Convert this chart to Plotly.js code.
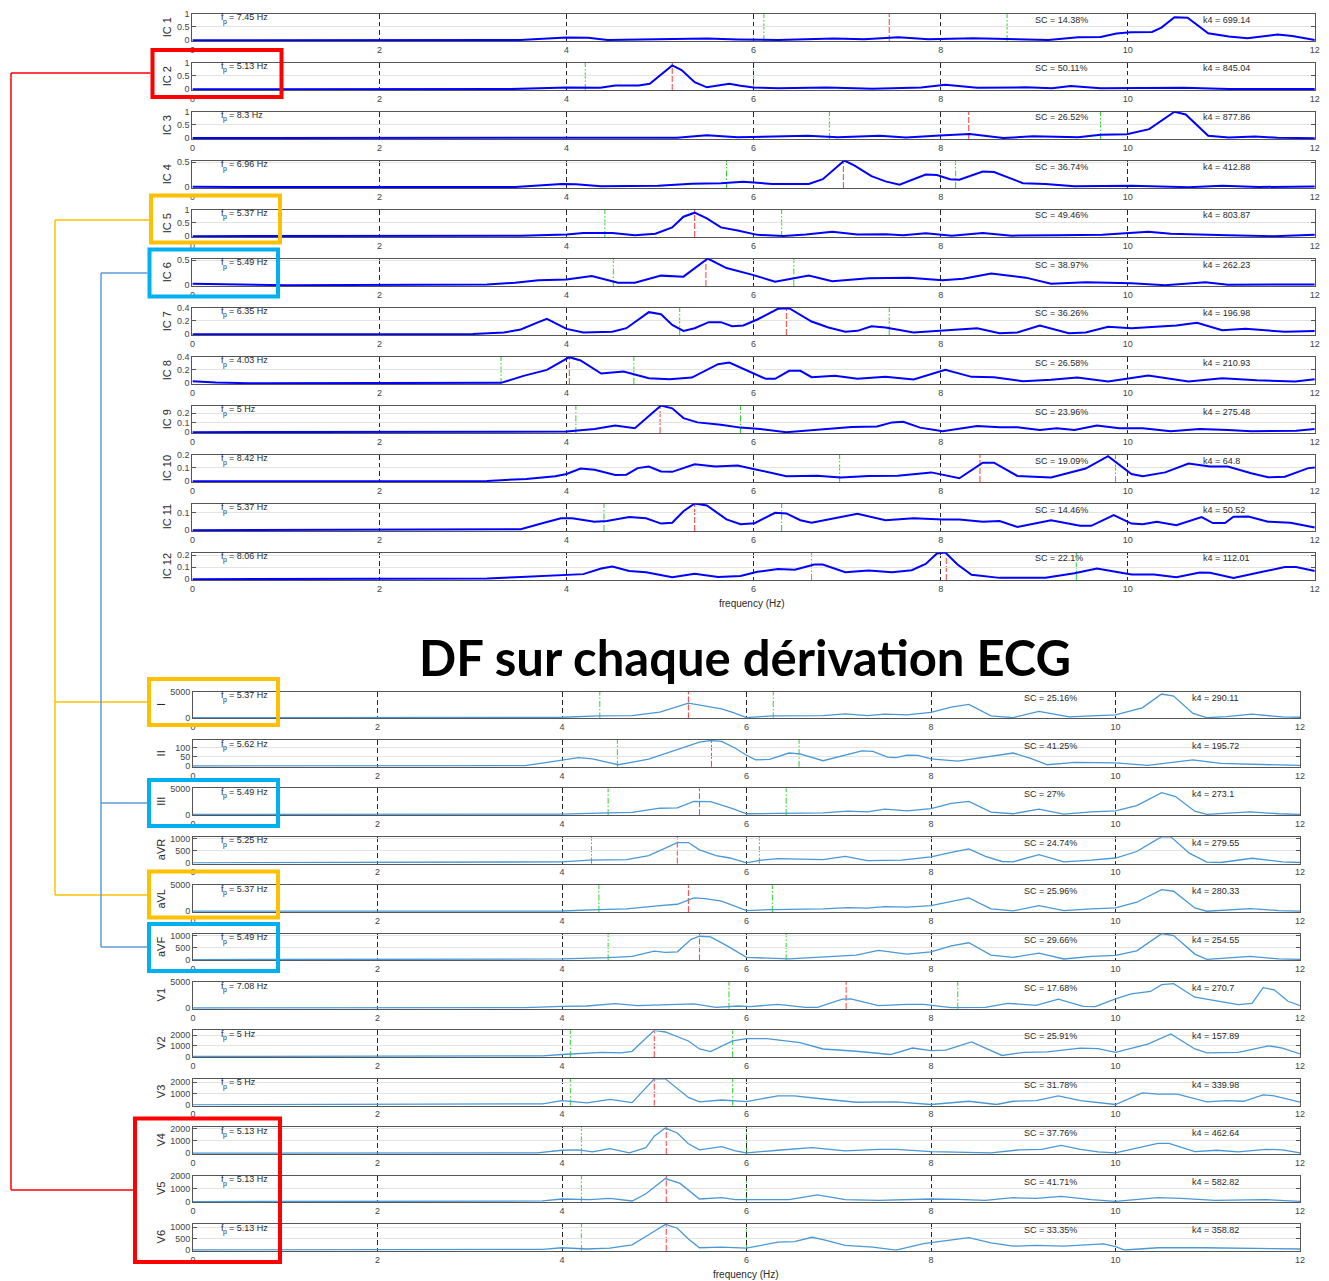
<!DOCTYPE html>
<html>
<head>
<meta charset="utf-8">
<script src="https://cdn.plot.ly/plotly-3.0.1.min.js"></script>
<style>html,body{margin:0;padding:0;background:#fff;}#chart{width:1329px;height:1281px;}</style>
</head>
<body>
<div id="chart"></div>
<script>
// ---------- DATA (frequency Hz, power) ----------
const IC_NAMES = ['IC 1','IC 2','IC 3','IC 4','IC 5','IC 6','IC 7','IC 8','IC 9','IC 10','IC 11','IC 12'];
const ECG_NAMES = ['I','II','III','aVR','aVL','aVF','V1','V2','V3','V4','V5','V6'];

const IC1 = [[0,0],[3.5,0.01],[4,0.1],[4.23,0.09],[4.44,0.01],[4.77,0.025],[5.18,0.06],[5.5,0.06],[5.83,0.025],[6.26,0.01],[6.86,0.06],[7.18,0.04],[7.55,0.11],[7.87,0.04],[8.35,0.07],[8.67,0.04],[8.91,0.01],[9.15,0.01],[9.47,0.11],[9.71,0.12],[9.88,0.25],[10.03,0.3],[10.26,0.31],[10.36,0.47],[10.5,0.86],[10.64,0.84],[10.86,0.26],[11.08,0.14],[11.28,0.07],[11.6,0.21],[11.76,0.16],[12,0.01]];
const IC2 = [[0,0],[3.4,0.005],[4,0.06],[4.36,0.05],[4.52,0.14],[4.77,0.14],[4.89,0.2],[5.13,0.89],[5.23,0.72],[5.37,0.26],[5.5,0.07],[5.74,0.2],[5.86,0.13],[6,0.06],[6.26,0.04],[6.78,0.06],[7.27,0.02],[7.79,0.06],[8.05,0.17],[8.39,0.05],[8.91,0.07],[9.19,0.04],[9.39,0.12],[9.71,0.04],[10.6,0.05],[11.08,0.01],[12,0.01]];
const IC3 = [[0,0.005],[4,0.02],[5.18,0.02],[5.5,0.11],[5.83,0.04],[6.58,0.09],[6.9,0.04],[7.35,0.09],[7.63,0.025],[7.99,0.1],[8.31,0.16],[8.67,0.01],[8.99,0.07],[9.47,0.04],[9.71,0.13],[9.99,0.15],[10.23,0.34],[10.5,0.99],[10.62,0.89],[10.86,0.09],[11.08,0.03],[11.36,0.06],[11.6,0.02],[12,0]];
const IC4 = [[0,0.01],[0.5,0.005],[3.45,0.005],[3.95,0.064],[4.1,0.06],[4.37,0.02],[4.98,0.03],[5.34,0.07],[5.65,0.077],[5.89,0.11],[6.2,0.064],[6.59,0.064],[6.74,0.16],[6.97,0.53],[7.08,0.43],[7.26,0.22],[7.41,0.115],[7.56,0.05],[7.84,0.25],[7.96,0.24],[8.1,0.16],[8.2,0.15],[8.45,0.31],[8.57,0.3],[8.88,0.08],[9.12,0.064],[9.43,0.02],[10.04,0.03],[10.65,0],[11.01,0.03],[11.4,0.005],[12,0.012]];
const IC5 = [[0,0],[3.51,0.02],[4,0.06],[4.18,0.12],[4.49,0.12],[4.73,0.04],[4.95,0.09],[5.13,0.33],[5.25,0.73],[5.37,0.88],[5.5,0.67],[5.65,0.33],[5.83,0.21],[6.04,0.05],[6.32,0.01],[6.56,0.06],[6.84,0.17],[7.11,0.06],[7.41,0.07],[7.6,0.04],[7.84,0.11],[8.12,0.02],[8.45,0.12],[8.76,0.02],[9.24,0.04],[9.73,0.05],[10.22,0.17],[10.46,0.09],[11.07,0.04],[11.56,0],[12,0.05]];
const IC6 = [[0,0.03],[0.4,0.02],[1,0],[3.15,0.013],[3.45,0.05],[3.7,0.1],[4,0.115],[4.27,0.18],[4.55,0.05],[4.73,0.05],[5.01,0.19],[5.25,0.17],[5.51,0.53],[5.71,0.34],[5.98,0.21],[6.23,0.07],[6.59,0.19],[6.84,0.08],[7.23,0.14],[7.66,0.15],[8.02,0.1],[8.24,0.13],[8.54,0.23],[8.91,0.15],[9.18,0.03],[9.55,0.06],[10.04,0.04],[10.4,0],[10.83,0.06],[11.07,0.01],[11.68,0.02],[12,0.013]];
const IC7 = [[0,0],[3.0,0.003],[3.33,0.026],[3.51,0.07],[3.7,0.18],[3.79,0.23],[4,0.08],[4.18,0.026],[4.49,0.036],[4.64,0.09],[4.88,0.33],[5.01,0.3],[5.13,0.14],[5.25,0.05],[5.37,0.09],[5.52,0.18],[5.65,0.18],[5.77,0.12],[5.89,0.13],[6.04,0.22],[6.26,0.38],[6.38,0.39],[6.62,0.19],[6.8,0.1],[6.98,0.036],[7.11,0.05],[7.26,0.12],[7.41,0.1],[7.71,0.026],[8.02,0.06],[8.39,0.09],[8.63,0.015],[8.82,0.026],[9.06,0.13],[9.37,0.015],[9.55,0.026],[9.79,0.11],[10.04,0.09],[10.28,0.11],[10.52,0.13],[10.74,0.17],[11.01,0.06],[11.26,0.08],[11.68,0.036],[12,0.047]];
const IC8 = [[0,0.03],[0.25,0.01],[0.6,0],[3.3,0.005],[3.54,0.11],[3.79,0.2],[4.03,0.39],[4.15,0.34],[4.37,0.145],[4.61,0.175],[4.88,0.075],[5.1,0.06],[5.34,0.085],[5.62,0.285],[5.74,0.31],[5.95,0.175],[6.13,0.065],[6.23,0.065],[6.38,0.185],[6.5,0.185],[6.62,0.09],[6.87,0.11],[7.11,0.065],[7.41,0.095],[7.71,0.055],[8.05,0.2],[8.33,0.095],[8.57,0.09],[8.88,0.03],[9.18,0.05],[9.46,0.085],[9.79,0.025],[10.22,0.115],[10.65,0.025],[11.01,0.075],[11.38,0.045],[11.79,0.025],[12,0.06]];
const IC9 = [[0,0],[3.33,0.01],[4,0.007],[4.3,0.034],[4.52,0.069],[4.73,0.041],[5.01,0.28],[5.13,0.25],[5.25,0.148],[5.4,0.103],[5.65,0.079],[5.86,0.048],[6.07,0.034],[6.35,0],[6.8,0.034],[7.05,0.055],[7.32,0.059],[7.48,0.103],[7.6,0.11],[7.78,0.048],[8.02,0.01],[8.39,0.066],[8.63,0.052],[8.82,0.052],[9.06,0.024],[9.24,0.041],[9.43,0.024],[9.67,0.069],[9.91,0.041],[10.16,0.041],[10.46,0.01],[10.77,0.034],[11.07,0.024],[11.32,0.01],[11.8,0.014],[12,0.034]];
const IC10 = [[0,0],[3.15,0.002],[3.57,0.017],[3.88,0.037],[4,0.054],[4.15,0.095],[4.3,0.085],[4.52,0.046],[4.64,0.049],[4.76,0.098],[4.88,0.11],[5.01,0.073],[5.13,0.07],[5.37,0.127],[5.59,0.11],[5.83,0.117],[6.01,0.09],[6.35,0.037],[6.68,0.041],[6.93,0.027],[7.23,0.039],[7.54,0.041],[7.9,0.066],[8.2,0.022],[8.45,0.139],[8.57,0.139],[8.82,0.039],[9.18,0.027],[9.55,0.095],[9.79,0.188],[10.04,0.054],[10.16,0.037],[10.4,0.066],[10.65,0.132],[10.88,0.11],[11.07,0.11],[11.32,0.059],[11.5,0.029],[11.68,0.034],[11.93,0.098],[12,0.102]];
const IC11 = [[0,0],[3.51,0.006],[3.76,0.043],[3.94,0.068],[4.06,0.068],[4.3,0.049],[4.43,0.053],[4.67,0.075],[4.85,0.068],[5.01,0.038],[5.13,0.043],[5.25,0.109],[5.37,0.153],[5.5,0.142],[5.71,0.062],[5.86,0.034],[6.01,0.04],[6.23,0.1],[6.35,0.096],[6.5,0.057],[6.62,0.043],[7.11,0.094],[7.41,0.057],[7.71,0.068],[8.02,0.062],[8.2,0.062],[8.45,0.049],[8.63,0.053],[8.82,0.019],[9.18,0.057],[9.49,0.026],[9.61,0.025],[9.85,0.087],[10.04,0.038],[10.16,0.034],[10.31,0.049],[10.52,0.028],[10.79,0.075],[10.91,0.041],[11.04,0.041],[11.13,0.077],[11.29,0.079],[11.5,0.049],[11.74,0.043],[12,0.015]];
const IC12 = [[0,0],[3.15,0.005],[3.45,0.016],[3.76,0.026],[4,0.032],[4.18,0.042],[4.37,0.089],[4.49,0.105],[4.67,0.068],[4.85,0.058],[5.13,0.016],[5.37,0.045],[5.62,0.018],[5.86,0.026],[6.04,0.061],[6.26,0.084],[6.44,0.079],[6.65,0.121],[6.74,0.121],[6.98,0.058],[7.23,0.071],[7.48,0.058],[7.69,0.074],[7.84,0.126],[7.96,0.213],[8.05,0.221],[8.18,0.121],[8.33,0.037],[8.63,0.011],[9.12,0.013],[9.43,0.05],[9.67,0.089],[10.04,0.039],[10.28,0.039],[10.52,0.016],[10.77,0.055],[10.88,0.053],[11.13,0.011],[11.44,0.061],[11.68,0.1],[11.8,0.1],[12,0.068]];

const ECG_I = [[0,0],[3.6,70],[4,70],[4.4,330],[4.76,400],[5.06,1070],[5.37,2800],[5.73,1670],[5.85,1000],[6,0],[6.28,330],[6.83,400],[7.07,730],[7.31,400],[7.5,670],[7.74,530],[8,1000],[8.22,2000],[8.41,2530],[8.65,330],[8.89,0],[9.17,1200],[9.5,130],[9.74,330],[10,530],[10.29,1870],[10.5,4530],[10.63,4130],[10.84,800],[10.99,0],[11.2,200],[11.48,670],[11.81,130],[12,70]];
const ECG_II = [[0,0],[3.6,2],[4,32],[4.18,46],[4.33,39],[4.61,7],[4.94,37],[5.25,92],[5.49,131],[5.61,139],[5.73,134],[5.88,97],[6,59],[6.1,34],[6.25,36],[6.46,71],[6.58,66],[6.83,29],[7.07,59],[7.25,83],[7.37,80],[7.53,49],[7.62,46],[7.74,59],[7.86,58],[8,39],[8.29,27],[8.59,49],[8.89,71],[9.08,42],[9.26,7],[9.56,20],[10,17],[10.35,3],[10.6,17],[10.84,34],[11.14,14],[11.57,8],[12,3]];
const ECG_III = [[0,0],[3.6,20],[4,60],[4.5,310],[4.76,375],[5.06,1190],[5.25,1250],[5.43,2500],[5.61,2440],[5.85,1125],[6,125],[6.34,190],[6.83,310],[7.1,625],[7.31,500],[7.5,1000],[7.74,690],[8,1125],[8.22,2125],[8.41,2500],[8.65,440],[8.89,125],[9.17,1000],[9.44,60],[9.74,500],[10,690],[10.23,1690],[10.5,4190],[10.65,3440],[10.86,625],[10.99,0],[11.46,500],[11.77,125],[12,0]];
const ECG_AVR = [[0,0],[3.6,27],[4,40],[4.3,108],[4.7,135],[4.94,300],[5.25,840],[5.37,840],[5.49,540],[5.67,300],[5.82,200],[6,0],[6.16,108],[6.34,175],[6.83,135],[7.07,270],[7.31,95],[7.68,108],[8,245],[8.22,430],[8.41,580],[8.59,270],[8.77,55],[8.89,40],[9.17,340],[9.44,40],[9.74,108],[10,200],[10.23,470],[10.41,880],[10.5,1080],[10.6,1080],[10.8,400],[10.99,27],[11.14,13],[11.48,190],[11.81,40],[12,13]];
const ECG_AVL = [[0,0],[3.6,20],[4,40],[4.4,320],[4.7,450],[5.06,1090],[5.25,1340],[5.43,2560],[5.55,2430],[5.73,1920],[6,130],[6.28,320],[6.83,450],[7.1,700],[7.31,580],[7.5,900],[7.74,770],[8,1090],[8.22,1920],[8.41,2560],[8.65,450],[8.89,64],[9.17,1090],[9.44,130],[9.74,450],[10,640],[10.23,1730],[10.5,4160],[10.63,3840],[10.86,640],[10.99,0],[11.46,510],[11.77,130],[12,0]];
const ECG_AVF = [[0,0],[3.6,10],[4,27],[4.5,80],[4.76,135],[5,350],[5.12,300],[5.25,325],[5.4,840],[5.49,970],[5.61,945],[5.79,570],[6,95],[6.46,27],[6.83,95],[7.19,190],[7.43,380],[7.74,230],[8,325],[8.22,570],[8.41,700],[8.65,190],[8.89,95],[9.17,270],[9.44,27],[9.74,135],[10,175],[10.23,365],[10.5,1080],[10.63,1000],[10.86,230],[10.99,13],[11.46,135],[11.77,27],[12,13]];
const ECG_V1 = [[0,0],[3.6,65],[4,325],[4.27,390],[4.58,845],[4.82,455],[5.25,715],[5.43,780],[5.67,130],[5.91,390],[6.04,260],[6.34,715],[6.64,130],[6.77,130],[7.04,1690],[7.13,1750],[7.43,455],[7.74,715],[7.92,715],[8.22,65],[8.59,130],[8.83,910],[9.14,520],[9.38,1690],[9.65,325],[9.78,260],[10,1750],[10.17,2730],[10.38,3185],[10.5,4480],[10.63,4675],[10.86,2080],[11.08,1430],[11.33,650],[11.48,910],[11.6,3900],[11.72,3510],[11.87,1300],[12,455]];
const ECG_V2 = [[0,0],[3.6,20],[3.79,60],[4,180],[4.43,390],[4.64,330],[4.76,485],[5,2450],[5.12,2300],[5.37,1455],[5.49,700],[5.61,455],[5.85,1455],[6,1670],[6.22,1670],[6.58,1300],[6.83,700],[7.19,485],[7.56,180],[7.8,790],[8,545],[8.16,600],[8.44,1360],[8.59,790],[8.77,90],[9.01,390],[9.26,420],[9.62,790],[9.81,730],[10,390],[10.35,1150],[10.6,2120],[10.86,700],[10.99,330],[11.33,390],[11.66,1000],[11.81,790],[12,240]];
const ECG_V3 = [[0,0],[3.6,20],[3.79,85],[4,370],[4.27,170],[4.52,485],[4.76,200],[5,2310],[5.12,2310],[5.37,660],[5.49,255],[5.73,430],[5.88,370],[6,285],[6.34,800],[6.52,800],[6.83,515],[7.19,230],[7.62,255],[7.86,85],[8,30],[8.41,315],[8.71,30],[8.89,315],[9.14,370],[9.38,800],[9.62,370],[10,30],[10.29,1060],[10.46,945],[10.67,945],[10.99,255],[11.2,370],[11.39,315],[11.6,890],[11.72,800],[12,230]];
const ECG_V4 = [[0,0],[3.5,10],[3.73,25],[4,240],[4.18,265],[4.33,105],[4.52,370],[4.73,25],[4.91,450],[5,1370],[5.12,2030],[5.25,1630],[5.37,760],[5.49,265],[5.73,525],[5.88,185],[6,25],[6.34,240],[6.71,450],[7.07,185],[7.43,315],[7.62,315],[8,130],[8.65,25],[8.95,265],[9.2,315],[9.41,630],[9.62,315],[9.81,105],[10,25],[10.23,395],[10.46,790],[10.58,790],[10.86,130],[11.1,240],[11.33,105],[11.63,315],[11.81,265],[12,25]];
const ECG_V5 = [[0,0],[3.6,20],[3.79,50],[4,200],[4.3,150],[4.52,250],[4.76,50],[4.91,600],[5.12,1775],[5.28,1400],[5.49,200],[5.73,300],[5.88,150],[6.22,150],[6.46,150],[6.77,525],[7.07,150],[7.43,100],[8,200],[8.29,175],[8.59,100],[8.89,300],[9.14,250],[9.41,400],[9.74,150],[10,25],[10.46,300],[10.71,250],[11.08,100],[11.63,150],[12,25]];
const ECG_V6 = [[0,0],[3.6,10],[3.79,30],[4,100],[4.27,45],[4.52,85],[4.76,230],[4.94,670],[5.12,1130],[5.25,960],[5.37,485],[5.49,100],[5.73,130],[6,85],[6.34,345],[6.52,370],[6.71,560],[6.83,460],[7.07,200],[7.37,130],[7.62,0],[7.92,285],[8.41,545],[8.65,315],[8.89,170],[9.14,200],[9.44,170],[9.87,270],[10,145],[10.1,0],[10.46,100],[10.95,100],[11.33,70],[12,45]];

const IC_SERIES = [IC1,IC2,IC3,IC4,IC5,IC6,IC7,IC8,IC9,IC10,IC11,IC12];
const ECG_SERIES = [ECG_I,ECG_II,ECG_III,ECG_AVR,ECG_AVL,ECG_AVF,ECG_V1,ECG_V2,ECG_V3,ECG_V4,ECG_V5,ECG_V6];

// dominant frequency, lower / upper band (Hz)
const IC_FP = [7.45,5.13,8.3,6.96,5.37,5.49,6.35,4.03,5,8.42,5.37,8.06];
const IC_LO = [6.11,4.2,6.81,5.71,4.41,4.5,5.21,3.3,4.1,6.92,4.4,6.62];
const IC_HI = [8.71,6.0,9.71,8.16,6.3,6.43,7.45,4.72,5.86,9.87,6.3,9.45];
const ECG_FP = [5.37,5.62,5.49,5.25,5.37,5.49,7.08,5,5,5.13,5.13,5.13];
const ECG_LO = [4.41,4.6,4.5,4.32,4.4,4.5,5.81,4.09,4.09,4.21,4.21,4.21];
const ECG_HI = [6.29,6.57,6.43,6.14,6.28,6.43,8.29,5.85,5.85,6.0,6.0,6.0];

const IC_SC = ['14.38%','50.11%','26.52%','36.74%','49.46%','38.97%','36.26%','26.58%','23.96%','19.09%','14.46%','22.1%'];
const IC_K4 = ['699.14','845.04','877.86','412.88','803.87','262.23','196.98','210.93','275.48','64.8','50.52','112.01'];
const ECG_SC = ['25.16%','41.25%','27%','24.74%','25.96%','29.66%','17.68%','25.91%','31.78%','37.76%','41.71%','33.35%'];
const ECG_K4 = ['290.11','195.72','273.1','279.55','280.33','254.55','270.7','157.89','339.98','462.64','582.82','358.82'];

// y-axis scales and tick labels
const IC_YMAX = [1,1,1,0.53,1,0.53,0.4,0.4,0.28,0.2,0.153,0.221];
const IC_YTICKS = [[0,0.5,1],[0,0.5,1],[0,0.5,1],[0,0.5],[0,0.5,1],[0,0.5],[0,0.2,0.4],[0,0.2,0.4],[0,0.1,0.2],[0,0.1,0.2],[0,0.1],[0,0.1,0.2]];
const ECG_YMAX = [5000,142,5000,1080,5000,1080,5000,2450,2310,2100,2000,1145];
const ECG_YTICKS = [[0,5000],[0,50,100],[0,5000],[0,500,1000],[0,5000],[0,500,1000],[0,5000],[0,1000,2000],[0,1000,2000],[0,1000,2000],[0,1000,2000],[0,500,1000]];
const XTICKS = [0,2,4,6,8,10,12];

// ---------- BUILD ----------
const W = 1329, H = 1281;
const px = v => v / W;
const py = v => 1 - v / H;
const FONT = 'Liberation Sans, Arial, Helvetica, sans-serif';
const TXT = '#2a2a2a';

const traces = [];
const layout = {
  width: W, height: H,
  margin: {l:0, r:0, t:0, b:0},
  paper_bgcolor: '#fff', plot_bgcolor: '#fff',
  showlegend: false,
  font: {family: FONT, color: TXT, size: 9},
  annotations: [], shapes: []
};

function note(x, y, text, size, extra) {
  layout.annotations.push(Object.assign({xref:'paper', yref:'paper', x: px(x), y: py(y), text: text,
    showarrow:false, xanchor:'left', yanchor:'middle', font:{size:size, color:TXT, family:FONT}}, extra || {}));
}

function addPanel(i, name, series, ymax, yticks, fp, lo, hi, sc, k4, isIC, k) {
  const n = i + 1;
  const xa = n === 1 ? 'x' : 'x' + n;
  const ya = n === 1 ? 'y' : 'y' + n;
  const top = isIC ? 13.5 + 49 * k : 691.6 + 48.4 * k;
  const h = isIC ? 27.5 : 26.8;
  const xl = isIC ? 192.4 : 193;
  const xr = isIC ? 1314.8 : 1300;

  layout['xaxis' + (n === 1 ? '' : n)] = {
    domain: [px(xl), px(xr)], range: [0, 12], anchor: ya,
    tickvals: XTICKS, ticktext: XTICKS.map(String),
    showgrid: true, gridcolor: '#262626', griddash: '5px,3px', gridwidth: 1,
    showline: true, mirror: true, linecolor: '#555', linewidth: 1,
    ticks: '', zeroline: false, fixedrange: true, layer: 'below traces',
    tickfont: {size: 9, color: '#444', family: FONT}
  };
  layout['yaxis' + (n === 1 ? '' : n)] = {
    // small margin below 0 so a zero-level line is not half clipped
    domain: [py(top + h), py(top)], range: [-ymax * 0.03, ymax], anchor: xa,
    tickvals: yticks, ticktext: yticks.map(String),
    showgrid: true, gridcolor: '#e3e3e3', gridwidth: 1,
    showline: true, mirror: 'ticks', linecolor: '#555', linewidth: 1,
    ticks: 'inside', ticklen: 4, tickcolor: '#555',
    zeroline: false, fixedrange: true, layer: 'below traces',
    tickfont: {size: 9, color: '#444', family: FONT}
  };

  traces.push({
    x: series.map(p => p[0]), y: series.map(p => p[1]),
    xaxis: xa, yaxis: ya, mode: 'lines', hoverinfo: 'skip',
    line: isIC ? {color: '#0000ff', width: 2} : {color: '#4a98d6', width: 1.3}
  });

  const yd = ya + ' domain';
  const green = {color:'#2ed12e', width:1, dash:'6px,2px,1.5px,2px'};
  const red = {color:'#ff3c3c', width:1, dash:'6px,2px'};
  layout.shapes.push({type:'line', xref: xa, yref: yd, x0: lo, x1: lo, y0: 0, y1: 1, line: green, layer:'below'});
  layout.shapes.push({type:'line', xref: xa, yref: yd, x0: hi, x1: hi, y0: 0, y1: 1, line: green, layer:'below'});
  layout.shapes.push({type:'line', xref: xa, yref: yd, x0: fp, x1: fp, y0: 0, y1: 1, line: red, layer:'below'});

  const ylabX = isIC ? 167 : 161;
  note(ylabX, top + h/2, name, 11, {textangle: -90, xanchor:'center'});
  // "f" with subscript "p", then the value
  note(218.5, top + 3.5, 'f', 9);
  note(221, top + 8, 'p', 7);
  note(226.5, top + 3.5, '= ' + fp + ' Hz', 9);
  note(isIC ? 1033 : 1022, top + 6, 'SC = ' + sc, 9);
  note(isIC ? 1201 : 1190, top + 6, 'k4 = ' + k4, 9);
}

for (let k = 0; k < 12; k++) {
  addPanel(k, IC_NAMES[k], IC_SERIES[k], IC_YMAX[k], IC_YTICKS[k], IC_FP[k], IC_LO[k], IC_HI[k], IC_SC[k], IC_K4[k], true, k);
}
for (let k = 0; k < 12; k++) {
  addPanel(12 + k, ECG_NAMES[k], ECG_SERIES[k], ECG_YMAX[k], ECG_YTICKS[k], ECG_FP[k], ECG_LO[k], ECG_HI[k], ECG_SC[k], ECG_K4[k], false, k);
}

// axis labels + title
note(752, 603, 'frequency (Hz)', 10, {xanchor:'center'});
note(746, 1274, 'frequency (Hz)', 10, {xanchor:'center'});
layout.annotations.push({xref:'paper', yref:'paper', x: px(745), y: py(657), text:'<b>DF sur chaque dérivation ECG</b>', showarrow:false, xanchor:'center', yanchor:'middle', font:{size:49, color:'#000', family:'Lato, Noto Sans, sans-serif'}});

// highlight boxes and connectors
const RED = '#ff0000', YEL = '#ffc000', CYAN = '#00b0f0', BLUE_LINE = '#5b9bd5';
function box(x0, y0, x1, y1, c) {
  layout.shapes.push({type:'rect', xref:'paper', yref:'paper', x0: px(x0), x1: px(x1), y0: py(y1), y1: py(y0), line:{color:c, width:4}, fillcolor:'rgba(0,0,0,0)'});
}
function seg(x0, y0, x1, y1, c) {
  layout.shapes.push({type:'line', xref:'paper', yref:'paper', x0: px(x0), x1: px(x1), y0: py(y0), y1: py(y1), line:{color:c, width:1.5}});
}
box(152.5, 50, 281.5, 97, RED);
box(151, 195.5, 280, 242.5, YEL);
box(149.5, 249.5, 278, 296.5, CYAN);
box(149, 679, 278, 725, YEL);
box(149, 780, 278, 826, CYAN);
box(149, 871.5, 278, 917.5, YEL);
box(149, 924, 278, 971, CYAN);
box(135, 1118.5, 280, 1262, RED);

seg(11, 73, 150.5, 73, RED);
seg(11, 73, 11, 1190, RED);
seg(11, 1190, 133, 1190, RED);

seg(55, 220, 149, 220, YEL);
seg(55, 220, 55, 895, YEL);
seg(55, 702, 147, 702, YEL);
seg(55, 895, 147, 895, YEL);

seg(101, 273, 147.5, 273, BLUE_LINE);
seg(101, 273, 101, 947, BLUE_LINE);
seg(101, 803, 147, 803, BLUE_LINE);
seg(101, 947, 147, 947, BLUE_LINE);

Plotly.newPlot('chart', traces, layout, {staticPlot: true, displayModeBar: false});
</script>
</body>
</html>
